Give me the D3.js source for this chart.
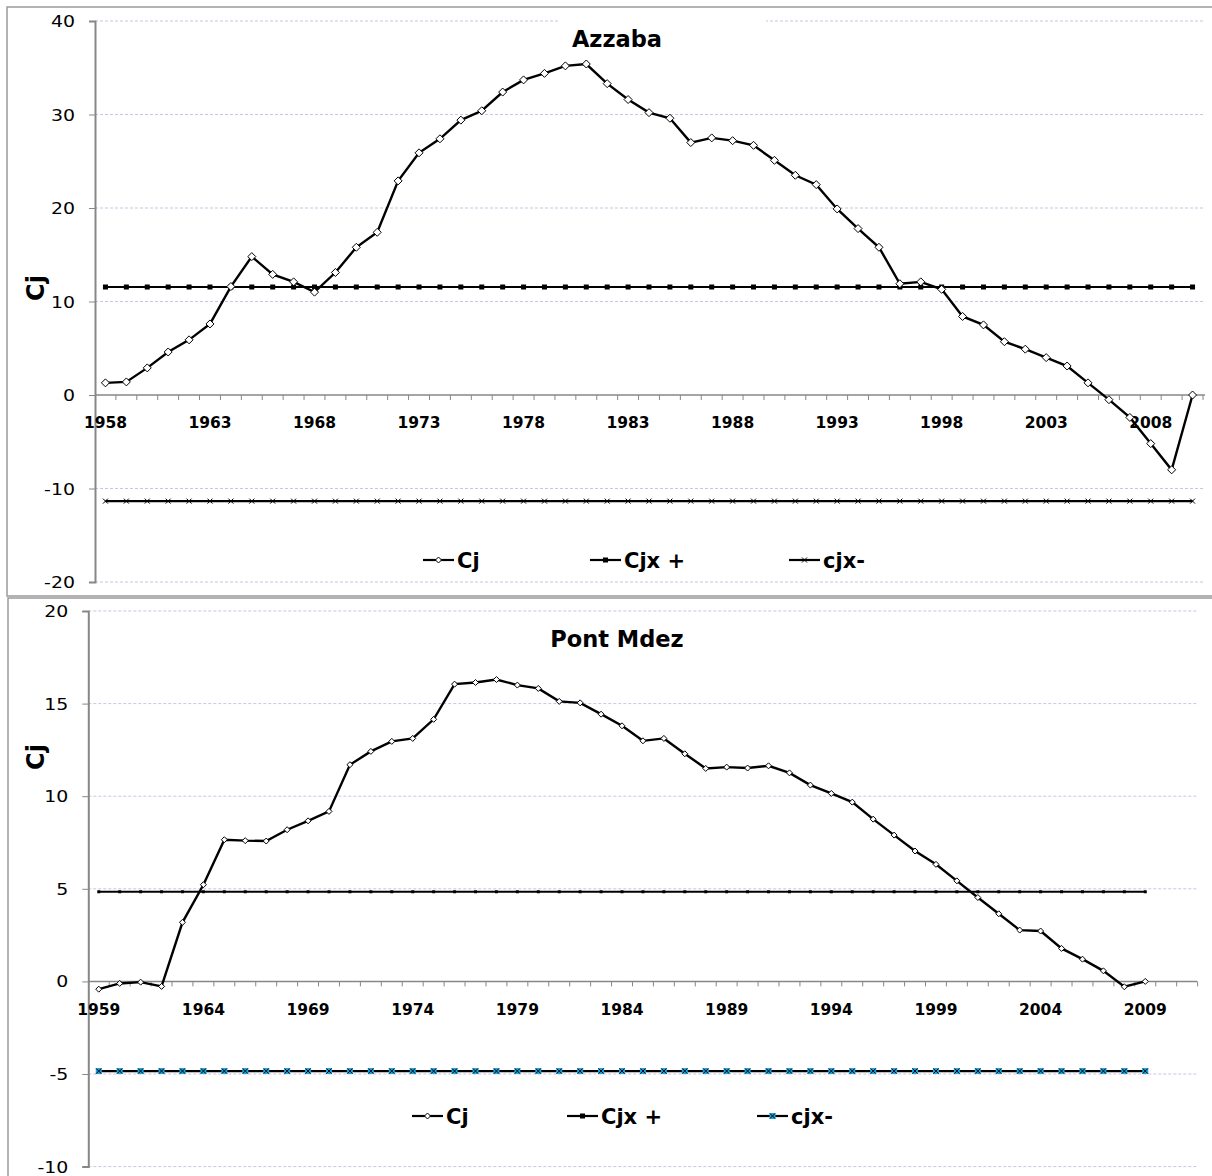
<!DOCTYPE html>
<html>
<head>
<meta charset="utf-8">
<script src="https://cdn.jsdelivr.net/npm/d3@7"></script>
<style>
  html, body { margin: 0; padding: 0; background: #fff; }
  svg { display: block; }
  text { font-family: "DejaVu Sans", Verdana, sans-serif; }
</style>
</head>
<body>
<svg id="chart" width="1212" height="1176"></svg>
<script>
// ---------------- DATA ----------------
const azzabaYears = [1958,1959,1960,1961,1962,1963,1964,1965,1966,1967,1968,1969,1970,1971,1972,1973,1974,1975,1976,1977,
  1978,1979,1980,1981,1982,1983,1984,1985,1986,1987,1988,1989,1990,1991,1992,1993,1994,1995,1996,1997,
  1998,1999,2000,2001,2002,2003,2004,2005,2006,2007,2008,2009,2010];
const azzabaCj = [1.3,1.4,2.9,4.6,5.9,7.6,11.6,14.8,12.9,12.1,11.0,13.1,15.8,17.4,22.9,25.9,27.4,29.4,30.4,32.4,
  33.7,34.4,35.2,35.4,33.3,31.6,30.2,29.6,27.0,27.5,27.2,26.7,25.1,23.5,22.5,19.9,17.8,15.8,11.9,12.1,
  11.3,8.4,7.5,5.7,4.9,4.0,3.1,1.3,-0.5,-2.4,-5.2,-8.0,0];
const azzabaCjxPlus = [11.55,11.55,11.55,11.55,11.55,11.55,11.55,11.55,11.55,11.55,11.55,11.55,11.55,11.55,11.55,11.55,11.55,11.55,11.55,11.55,
  11.55,11.55,11.55,11.55,11.55,11.55,11.55,11.55,11.55,11.55,11.55,11.55,11.55,11.55,11.55,11.55,11.55,11.55,11.55,11.55,
  11.55,11.55,11.55,11.55,11.55,11.55,11.55,11.55,11.55,11.55,11.55,11.55,11.55];
const azzabaCjxMinus = [-11.35,-11.35,-11.35,-11.35,-11.35,-11.35,-11.35,-11.35,-11.35,-11.35,-11.35,-11.35,-11.35,-11.35,-11.35,-11.35,-11.35,-11.35,-11.35,-11.35,
  -11.35,-11.35,-11.35,-11.35,-11.35,-11.35,-11.35,-11.35,-11.35,-11.35,-11.35,-11.35,-11.35,-11.35,-11.35,-11.35,-11.35,-11.35,-11.35,-11.35,
  -11.35,-11.35,-11.35,-11.35,-11.35,-11.35,-11.35,-11.35,-11.35,-11.35,-11.35,-11.35,-11.35];
const azzabaTickLabels = ["1958","1963","1968","1973","1978","1983","1988","1993","1998","2003","2008"];
const azzabaYTicks = [-20,-10,0,10,20,30,40];

const pontYears = [1959,1960,1961,1962,1963,1964,1965,1966,1967,1968,1969,1970,1971,1972,1973,1974,1975,1976,1977,1978,
  1979,1980,1981,1982,1983,1984,1985,1986,1987,1988,1989,1990,1991,1992,1993,1994,1995,1996,1997,1998,
  1999,2000,2001,2002,2003,2004,2005,2006,2007,2008,2009,2010,2011];
const pontCj = [-0.42,-0.11,-0.04,-0.27,3.19,5.22,7.65,7.6,7.58,8.19,8.67,9.18,11.7,12.42,12.96,13.12,14.15,16.05,16.14,16.3,
  16.0,15.82,15.12,15.04,14.43,13.8,12.99,13.12,12.29,11.5,11.57,11.52,11.64,11.26,10.6,10.15,9.68,8.76,7.9,7.04,
  6.32,5.43,4.53,3.65,2.77,2.72,1.78,1.2,0.57,-0.29,0];
const pontCjxPlus = [4.84,4.84,4.84,4.84,4.84,4.84,4.84,4.84,4.84,4.84,4.84,4.84,4.84,4.84,4.84,4.84,4.84,4.84,4.84,4.84,
  4.84,4.84,4.84,4.84,4.84,4.84,4.84,4.84,4.84,4.84,4.84,4.84,4.84,4.84,4.84,4.84,4.84,4.84,4.84,4.84,
  4.84,4.84,4.84,4.84,4.84,4.84,4.84,4.84,4.84,4.84,4.84];
const pontCjxMinus = [-4.84,-4.84,-4.84,-4.84,-4.84,-4.84,-4.84,-4.84,-4.84,-4.84,-4.84,-4.84,-4.84,-4.84,-4.84,-4.84,-4.84,-4.84,-4.84,-4.84,
  -4.84,-4.84,-4.84,-4.84,-4.84,-4.84,-4.84,-4.84,-4.84,-4.84,-4.84,-4.84,-4.84,-4.84,-4.84,-4.84,-4.84,-4.84,-4.84,-4.84,
  -4.84,-4.84,-4.84,-4.84,-4.84,-4.84,-4.84,-4.84,-4.84,-4.84,-4.84];
const pontTickLabels = ["1959","1964","1969","1974","1979","1984","1989","1994","1999","2004","2009"];
const pontYTicks = [-10,-5,0,5,10,15,20];

const seriesNames = ["Cj", "Cjx +", "cjx-"];

// ---------------- DRAW ----------------
const svg = d3.select("#chart");
const STRETCH = 1.22;

function stretchText(sel, factor) {
  sel.each(function () {
    const w = this.getComputedTextLength();
    d3.select(this).attr("textLength", w * factor).attr("lengthAdjust", "spacingAndGlyphs");
  });
}

function diamond(g, cx, cy, r, fill) {
  g.append("path")
    .attr("d", `M${cx},${cy - r}L${cx + r},${cy}L${cx},${cy + r}L${cx - r},${cy}Z`)
    .attr("fill", fill).attr("stroke", "#000").attr("stroke-width", 1);
}

function drawChart(cfg) {
  const g = svg.append("g");

  // frame
  g.append("path")
    .attr("d", `M1213,${cfg.box[1]}H${cfg.box[0]}V${cfg.box[2]}H1213`)
    .attr("fill", "none").attr("stroke", "#9a9a9a").attr("stroke-width", 1.5);

  const x = d3.scaleBand().domain(cfg.years).range([cfg.plot.x0, cfg.plot.x1]).paddingInner(0).paddingOuter(0);
  const y = d3.scaleLinear().domain(cfg.yDomain).range([cfg.plot.yBottom, cfg.plot.yTop]);
  const cx = d => x(d) + x.bandwidth() / 2;

  // gridlines
  g.append("g").selectAll("line").data(cfg.yTicks.filter(t => t !== 0)).join("line")
    .attr("x1", cfg.plot.x0).attr("x2", cfg.gridEnd)
    .attr("y1", d => y(d)).attr("y2", d => y(d))
    .attr("stroke", "#cdc3e3").attr("stroke-width", 1).attr("stroke-dasharray", "3,2");

  // chart title with white background (covers the top gridline)
  const titleG = g.append("g");
  const tt = titleG.append("text").attr("x", cfg.title[0]).attr("y", cfg.title[1])
    .attr("text-anchor", "middle").attr("font-weight", "bold").attr("font-size", 22.5)
    .text(cfg.titleText);
  if (cfg.titleBg) {
    const bb = tt.node().getBBox();
    titleG.insert("rect", () => tt.node())
      .attr("x", cfg.titleBg[0]).attr("y", bb.y - 14).attr("width", cfg.titleBg[1] - cfg.titleBg[0]).attr("height", bb.height + 12)
      .attr("fill", "#fff");
  }

  // y axis
  const yAxis = g.append("g").attr("transform", `translate(${cfg.plot.x0},0)`)
    .call(d3.axisLeft(y).tickValues(cfg.yTicks).tickSize(6).tickPadding(14).tickFormat(d => String(d)));
  yAxis.select(".domain").attr("stroke", "#878787").attr("stroke-width", 2);
  yAxis.selectAll(".tick line").attr("stroke", "#878787");
  yAxis.selectAll(".tick text").attr("font-size", 15.5).attr("fill", "#000")
    .attr("font-family", "DejaVu Sans").attr("dy", "0.36em");
  yAxis.selectAll(".tick text").call(stretchText, STRETCH);

  // x axis at y = 0 (ticks on category boundaries)
  const xAxisG = g.append("g").attr("transform", `translate(0,${y(0)})`);
  xAxisG.append("line").attr("x1", cfg.plot.x0).attr("x2", cfg.gridEnd).attr("y1", 0).attr("y2", 0)
    .attr("stroke", "#878787").attr("stroke-width", 1.5);
  xAxisG.selectAll("line.tk").data(cfg.years).join("line").attr("class", "tk")
    .attr("x1", d => x(d) + x.bandwidth()).attr("x2", d => x(d) + x.bandwidth())
    .attr("y1", 0).attr("y2", 5).attr("stroke", "#878787").attr("stroke-width", 1);
  xAxisG.selectAll("text").data(cfg.tickLabels).join("text")
    .attr("x", d => cx(+d)).attr("y", cfg.yearLabelDy)
    .attr("text-anchor", "middle").attr("font-weight", "bold").attr("font-size", 15.5)
    .text(d => d);

  // y axis title
  g.append("text").attr("transform", `translate(${cfg.yTitle[0]},${cfg.yTitle[1]}) rotate(-90)`)
    .attr("text-anchor", "middle").attr("font-weight", "bold").attr("font-size", 24)
    .text("Cj");

  const line = d3.line().x(d => cx(d[0])).y(d => y(d[1]));

  // Cjx+
  const plus = cfg.cjxPlus.map((v, i) => [cfg.years[i], v]);
  g.append("path").datum(plus).attr("d", line).attr("fill", "none").attr("stroke", "#000").attr("stroke-width", 2.2);
  g.append("g").selectAll("rect").data(plus).join("rect")
    .attr("x", d => cx(d[0]) - cfg.sq / 2).attr("y", d => y(d[1]) - cfg.sq / 2)
    .attr("width", cfg.sq).attr("height", cfg.sq).attr("fill", "#000");

  // cjx-
  const minus = cfg.cjxMinus.map((v, i) => [cfg.years[i], v]);
  g.append("path").datum(minus).attr("d", line).attr("fill", "none").attr("stroke", "#000").attr("stroke-width", 2.2);
  const mg = g.append("g");
  minus.forEach(d => {
    const px = cx(d[0]), py = y(d[1]);
    if (cfg.minusFill) {
      mg.append("rect").attr("x", px - 3).attr("y", py - 3).attr("width", 6).attr("height", 6).attr("fill", cfg.minusFill);
    }
    mg.append("path").attr("d", `M${px - 2.5},${py - 2.5}L${px + 2.5},${py + 2.5}M${px - 2.5},${py + 2.5}L${px + 2.5},${py - 2.5}`)
      .attr("stroke", "#000").attr("stroke-width", 1);
  });

  // Cj
  const cj = cfg.cj.map((v, i) => [cfg.years[i], v]);
  g.append("path").datum(cj).attr("d", line).attr("fill", "none").attr("stroke", "#000").attr("stroke-width", 2.4);
  const dg = g.append("g");
  cj.forEach(d => diamond(dg, cx(d[0]), y(d[1]), cfg.dia, "#fff"));

  // legend
  const lg = g.append("g");
  cfg.legend.forEach((L, i) => {
    lg.append("line").attr("x1", L).attr("x2", L + 31).attr("y1", cfg.legendY).attr("y2", cfg.legendY)
      .attr("stroke", "#000").attr("stroke-width", 2.2);
    const mx = L + 15.5, my = cfg.legendY;
    if (i === 0) diamond(lg, mx, my, 3, "#fff");
    if (i === 1) lg.append("rect").attr("x", mx - 2.5).attr("y", my - 2.5).attr("width", 5).attr("height", 5).attr("fill", "#000");
    if (i === 2) {
      if (cfg.minusFill) lg.append("rect").attr("x", mx - 3).attr("y", my - 3).attr("width", 6).attr("height", 6).attr("fill", cfg.minusFill);
      lg.append("path").attr("d", `M${mx - 2.5},${my - 2.5}L${mx + 2.5},${my + 2.5}M${mx - 2.5},${my + 2.5}L${mx + 2.5},${my - 2.5}`)
        .attr("stroke", "#000").attr("stroke-width", 1);
    }
    lg.append("text").attr("x", L + 34).attr("y", cfg.legendY + 7.5)
      .attr("font-weight", "bold").attr("font-size", 21).text(seriesNames[i]);
  });
}

drawChart({
  box: [7, 7, 596],
  years: azzabaYears, cj: azzabaCj, cjxPlus: azzabaCjxPlus, cjxMinus: azzabaCjxMinus,
  tickLabels: azzabaTickLabels, yTicks: azzabaYTicks, yDomain: [-20, 40],
  plot: { x0: 95, x1: 1203, yTop: 21, yBottom: 582 },
  gridEnd: 1205, yearLabelDy: 33,
  yTitle: [44, 288], title: [617, 46.5], titleText: "Azzaba", titleBg: [560, 766],
  sq: 5, dia: 4, minusFill: null,
  legend: [423, 590, 789], legendY: 560
});

drawChart({
  box: [8, 598, 1180],
  years: pontYears, cj: pontCj, cjxPlus: pontCjxPlus, cjxMinus: pontCjxMinus,
  tickLabels: pontTickLabels, yTicks: pontYTicks, yDomain: [-10, 20],
  plot: { x0: 88.3, x1: 1197.6, yTop: 611, yBottom: 1166.6 },
  gridEnd: 1197, yearLabelDy: 34,
  yTitle: [44, 757], title: [617, 646.5], titleText: "Pont Mdez", titleBg: null,
  sq: 3, dia: 3, minusFill: "#1aa3e0",
  legend: [412, 567, 757], legendY: 1116
});
</script>
</body>
</html>
